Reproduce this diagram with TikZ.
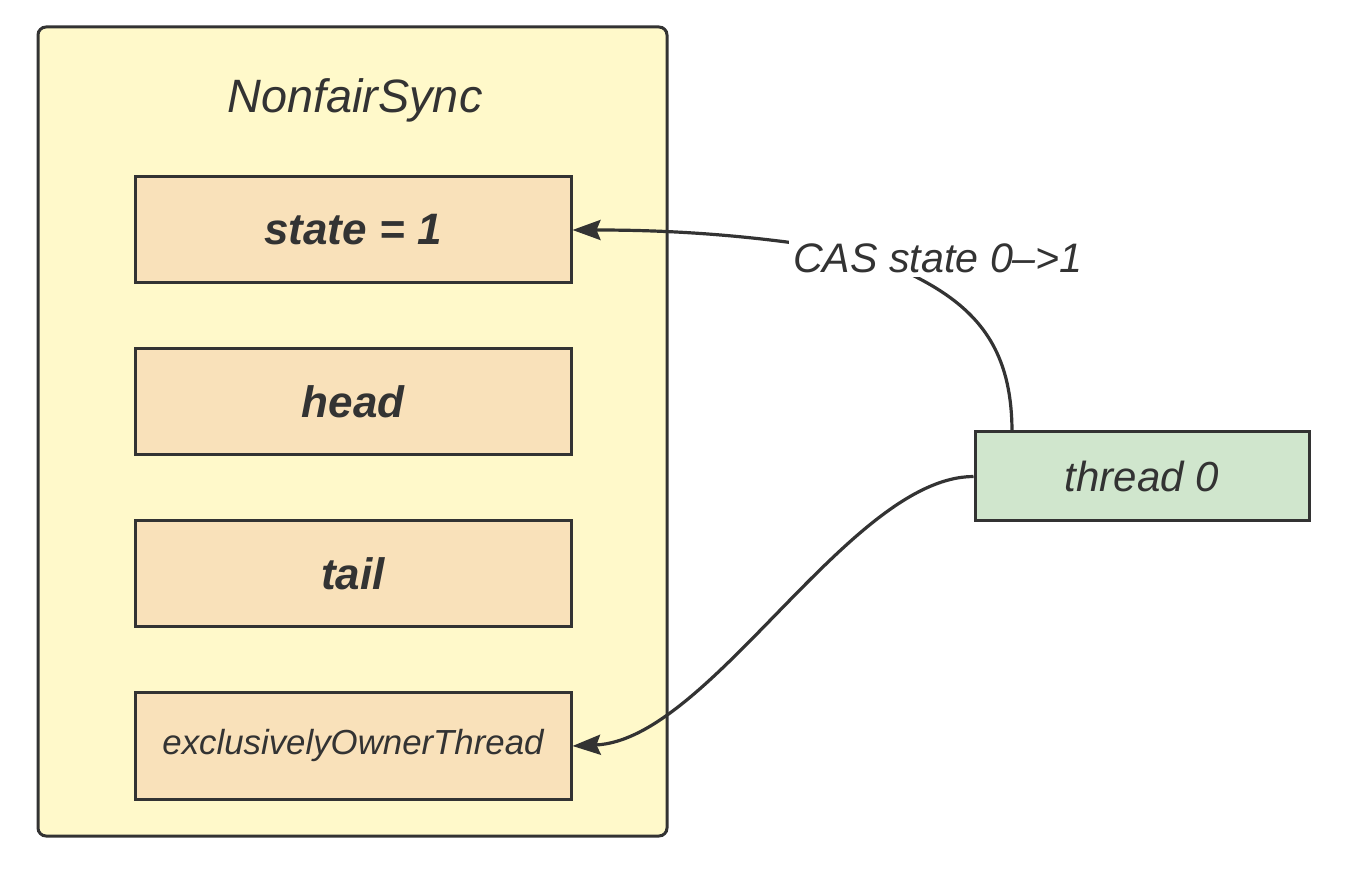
\documentclass[tikz,border=0pt]{standalone}
\usepackage{fontspec}
\setmainfont{Liberation Sans}
\usepackage{tikz}
\usetikzlibrary{arrows.meta, positioning}
\definecolor{lkInk}{HTML}{333333}
\definecolor{lkSync}{HTML}{FFF9CA}
\definecolor{lkField}{HTML}{F9E1BA}
\definecolor{lkThread}{HTML}{D0E6CD}
\tikzset{
  lknode/.style={
    draw=lkInk, line width=1.5pt, text=lkInk, align=center, inner sep=0pt
  },
  syncbox/.style={lknode, fill=lkSync, rounded corners=4pt,
    minimum width=314.5pt, minimum height=404.5pt},
  field/.style={lknode, fill=lkField, minimum width=218pt, minimum height=53pt,
    font=\fontsize{22}{26}\selectfont\bfseries\itshape},
  thread/.style={lknode, fill=lkThread, minimum width=167pt, minimum height=44.5pt,
    font=\fontsize{21}{25}\selectfont\itshape},
  title/.style={text=lkInk, font=\fontsize{23.4}{28}\selectfont\itshape},
  tag/.style={text=lkInk, fill=white, inner sep=2pt, font=\fontsize{20.6}{24}\selectfont\itshape},
  flow/.style={-{Stealth[length=14pt, width=10pt, inset=2pt]}, line width=1.6pt, lkInk}
}
\begin{document}
\begin{tikzpicture}[x=0.5pt, y=-0.5pt, node distance=31.5pt]
  \useasboundingbox (0,0) rectangle (1350,876);
  \node[syncbox] (sync) at (352.5,431.5) {};
  \node[title] (name) at (355,100) {NonfairSync};
  \node[field] (state) at (353,230) {state = 1};
  \node[field, below=of state] (head) {head};
  \node[field, below=of head] (tail) {tail};
  \node[field, below=of tail, font=\fontsize{17.4}{21}\selectfont\itshape] (owner) {exclusivelyOwnerThread};
  \node[thread] (thr) at (1142,476.5) {thread 0};
  \coordinate (thrtop) at (1012,432);
  \coordinate (casmid) at (860,253);
  \draw[flow] (thrtop) .. controls (1012,330) and (960,290) .. (casmid)
    .. controls (760,236) and (680,230) .. (state.east);
  \node[tag] (cas) at (938,258) {CAS state 0-->1};
  \draw[flow] (thr.west) .. controls (850,477) and (710,740) .. (owner.east);
\end{tikzpicture}
\end{document}
